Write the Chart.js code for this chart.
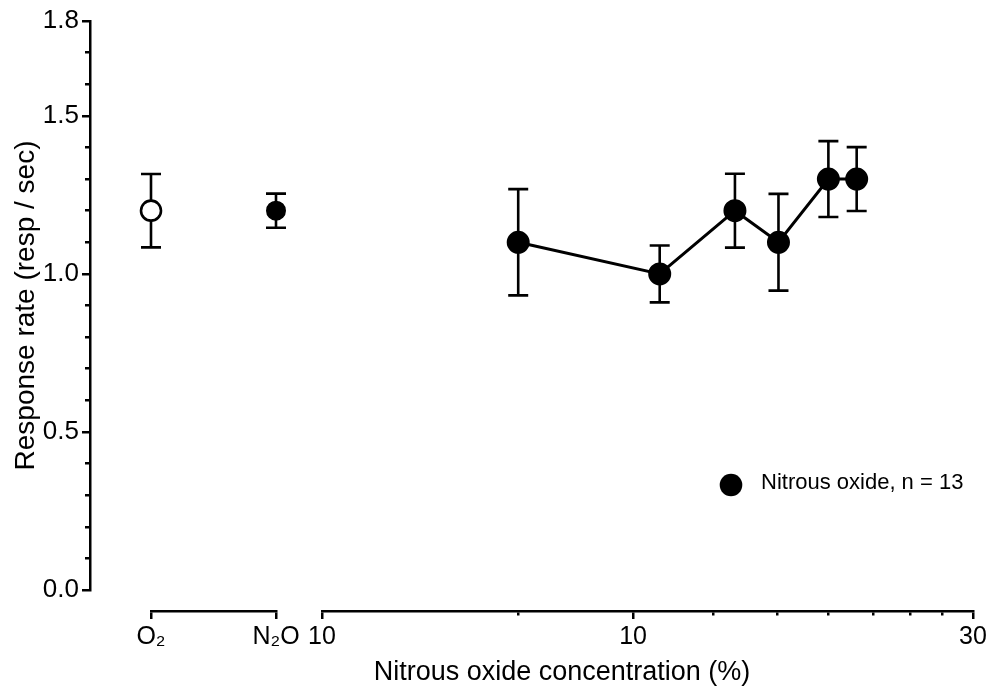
<!DOCTYPE html>
<html>
<head>
<meta charset="utf-8">
<title>Response rate vs nitrous oxide concentration</title>
<script src="https://cdn.jsdelivr.net/npm/chart.js@4.4.1/dist/chart.umd.min.js"></script>
<style>
  html, body { margin: 0; padding: 0; background: #ffffff; }
  #wrap { position: relative; width: 992px; height: 688px; }
</style>
</head>
<body>
<div id="wrap"><canvas id="chart" width="992" height="688"></canvas></div>
<script>
// Control conditions: pure oxygen and pure nitrous oxide
const gasLabels = ['O₂', 'N₂O'];
const gasMeans = [1.20, 1.20];
const gasSem = [0.116, 0.054];

// Dose series
const seriesLabel = 'Nitrous oxide, n = 13';
const concentrations = [6.9, 10.9, 13.9, 16.0, 18.8, 20.6];
const seriesMeans = [1.10, 1.00, 1.20, 1.10, 1.30, 1.30];
const seriesSem = [0.168, 0.090, 0.117, 0.153, 0.120, 0.101];

// Axis ticks
const yTickValues = [0, 0.5, 1.0, 1.5, 1.8];
const yTickLabels = ['0.0', '0.5', '1.0', '1.5', '1.8'];
const concTickValues = [3.66, 6.9, 10, 12.95, 15.95, 18.8, 21.7, 24.5, 27.2, 30];
const concMajorValues = [3.66, 10, 30];
const concMajorLabels = ['10', '10', '30'];

const FONT = "'Liberation Sans', Arial, Helvetica, sans-serif";
const INK = '#000000';
const near = (a, b) => Math.abs(a - b) < 1e-6;
const isIn = (v, arr) => arr.some(m => near(m, v));

const X_ROW_HEIGHT = 70;   // space reserved for the bottom axes
const X_ROW_DROP = 21;     // the bottom axes sit detached below the plot

// Vertical SEM bars with caps, drawn under the markers
const errorBars = {
  id: 'errorBars',
  beforeDatasetsDraw(chart) {
    const ctx = chart.ctx;
    const yScale = chart.scales.y;
    chart.data.datasets.forEach((ds, di) => {
      if (!ds.sem) return;
      const meta = chart.getDatasetMeta(di);
      ctx.save();
      ctx.strokeStyle = INK;
      ctx.lineWidth = 2.6;
      meta.data.forEach((pt, i) => {
        const v = ds.data[i].y;
        const e = ds.sem[i];
        const yt = yScale.getPixelForValue(v + e);
        const yb = yScale.getPixelForValue(v - e);
        const x = pt.x;
        const hw = 10;
        ctx.beginPath();
        ctx.moveTo(x, yt); ctx.lineTo(x, yb);
        ctx.moveTo(x - hw, yt); ctx.lineTo(x + hw, yt);
        ctx.moveTo(x - hw, yb); ctx.lineTo(x + hw, yb);
        ctx.stroke();
      });
      ctx.restore();
    });
  }
};

// Drop the bottom axis row away from the plot area
const detachedAxes = {
  id: 'detachedAxes',
  afterLayout(chart) {
    Object.values(chart.scales).forEach(s => {
      if (s.axis === 'x') s.top += X_ROW_DROP;
    });
  }
};

// Shared x-axis title centred under both axis segments
const sharedXTitle = {
  id: 'sharedXTitle',
  afterDraw(chart, args, o) {
    const a = chart.scales.xc, b = chart.scales.xl;
    const ctx = chart.ctx;
    ctx.save();
    ctx.font = `${o.size}px ${FONT}`;
    ctx.fillStyle = INK;
    ctx.textAlign = 'center';
    ctx.textBaseline = 'alphabetic';
    ctx.fillText(o.text, (a.left + b.right) / 2, o.baseline);
    ctx.restore();
  }
};

// Series key inside the plot
const seriesKey = {
  id: 'seriesKey',
  afterDatasetsDraw(chart, args, o) {
    const ds = chart.data.datasets[o.datasetIndex];
    const ctx = chart.ctx;
    ctx.save();
    ctx.beginPath();
    ctx.arc(o.x, o.y, o.radius, 0, Math.PI * 2);
    ctx.fillStyle = ds.pointBackgroundColor;
    ctx.fill();
    ctx.font = `${o.size}px ${FONT}`;
    ctx.fillStyle = INK;
    ctx.textAlign = 'left';
    ctx.textBaseline = 'middle';
    ctx.fillText(ds.label, o.x + o.gap, o.textY);
    ctx.restore();
  }
};

const yTickFont = { family: FONT, size: 26 };
const xTickFont = { family: FONT, size: 25 };

function noOverhang(s) {
  s.paddingLeft = 0;
  s.paddingRight = 0;
}

function xRowFit(s) {
  s.height = X_ROW_HEIGHT;
  noOverhang(s);
}

const spacer = (weight, stackWeight) => ({
  type: 'linear', axis: 'x', position: 'bottom', stack: 'xrow',
  stackWeight, weight, display: false, afterFit: xRowFit
});

const xGrid = (minorDash) => ({
  drawOnChartArea: false,
  color: INK,
  lineWidth: 2.5,
  tickLength: 8,
  tickBorderDash: minorDash,
  tickBorderDashOffset: 0
});

new Chart(document.getElementById('chart'), {
  type: 'line',
  data: {
    datasets: [
      {
        label: seriesLabel,
        xAxisID: 'xl',
        yAxisID: 'y',
        data: concentrations.map((c, i) => ({ x: c, y: seriesMeans[i] })),
        sem: seriesSem,
        borderColor: INK,
        borderWidth: 3,
        tension: 0,
        pointRadius: 10.5,
        pointBorderWidth: 2,
        pointBackgroundColor: INK,
        pointBorderColor: INK
      },
      {
        label: 'Control gases',
        xAxisID: 'xc',
        yAxisID: 'y',
        data: gasLabels.map((g, i) => ({ x: g, y: gasMeans[i] })),
        sem: gasSem,
        showLine: false,
        pointRadius: [10, 9],
        pointBorderWidth: [2.6, 2],
        pointBackgroundColor: ['#ffffff', INK],
        pointBorderColor: INK
      }
    ]
  },
  options: {
    responsive: false,
    animation: false,
    events: [],
    layout: { padding: { top: 21, right: 19, bottom: 28, left: 0 } },
    plugins: {
      legend: { display: false },
      tooltip: { enabled: false },
      sharedXTitle: { text: 'Nitrous oxide concentration (%)', size: 27, baseline: 680 },
      seriesKey: { datasetIndex: 0, x: 731, y: 485, radius: 11.3, gap: 30, size: 22, textY: 483 }
    },
    scales: {
      y: {
        type: 'linear',
        position: 'left',
        min: 0,
        max: 1.8,
        afterFit(s) { s.width = 90; s.paddingTop = 0; s.paddingBottom = 0; },
        afterBuildTicks(s) {
          const t = [];
          for (let k = 0; k <= 18; k++) t.push({ value: k / 10 });
          s.ticks = t;
        },
        ticks: {
          font: yTickFont,
          color: INK,
          padding: 3,
          autoSkip: false,
          callback: (v) => {
            const i = yTickValues.findIndex(m => near(m, v));
            return i >= 0 ? yTickLabels[i] : '';
          }
        },
        grid: {
          drawOnChartArea: false,
          color: INK,
          lineWidth: 2.5,
          tickLength: 8,
          tickBorderDash: (c) => (c.tick && !isIn(c.tick.value, yTickValues)) ? [4, 3] : [],
          tickBorderDashOffset: (c) => (c.tick && !isIn(c.tick.value, yTickValues)) ? 4 : 0
        },
        border: { display: true, color: INK, width: 2.5 },
        title: {
          display: true,
          text: 'Response rate (resp / sec)',
          color: INK,
          font: { family: FONT, size: 28 },
          padding: { top: 9, bottom: 0 }
        }
      },
      gapA: spacer(1, 61),
      xc: {
        type: 'category',
        axis: 'x',
        position: 'bottom',
        stack: 'xrow',
        stackWeight: 125,
        weight: 2,
        labels: gasLabels,
        offset: false,
        afterFit: xRowFit,
        ticks: { font: xTickFont, color: INK, padding: 3, autoSkip: false, maxRotation: 0 },
        grid: xGrid([]),
        border: { display: true, color: INK, width: 2.5 }
      },
      gapB: spacer(3, 46),
      xl: {
        type: 'logarithmic',
        axis: 'x',
        position: 'bottom',
        stack: 'xrow',
        stackWeight: 651,
        weight: 4,
        min: concTickValues[0],
        max: concTickValues[concTickValues.length - 1],
        afterFit: xRowFit,
        afterBuildTicks(s) { s.ticks = concTickValues.map(v => ({ value: v })); },
        ticks: {
          font: xTickFont,
          color: INK,
          padding: 3,
          autoSkip: false,
          maxRotation: 0,
          callback: (v) => {
            const i = concMajorValues.findIndex(m => near(m, v));
            return i >= 0 ? concMajorLabels[i] : '';
          }
        },
        grid: xGrid((c) => (c.tick && !isIn(c.tick.value, concMajorValues)) ? [3, 20] : []),
        border: { display: true, color: INK, width: 2.5 }
      }
    }
  },
  plugins: [errorBars, detachedAxes, sharedXTitle, seriesKey]
});
</script>
</body>
</html>
